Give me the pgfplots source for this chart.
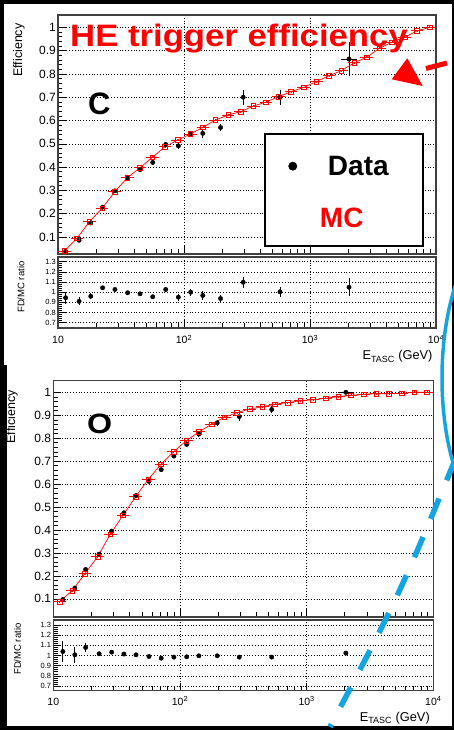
\documentclass[border=0pt]{standalone}
\usepackage{graphicx}
\usepackage{pgfplots}
\pgfplotsset{compat=1.18}
\usepackage{fontspec}
\setmainfont{Liberation Sans}
\definecolor{skyb}{RGB}{20,165,225}

\begin{document}
\begin{tikzpicture}
\path[use as bounding box] (0pt,0pt) rectangle (454pt,730pt);
\fill[black] (0pt,0pt) rectangle (454pt,730pt);
\fill[white] (4pt,4pt) rectangle (452pt,726pt);
\fill[black] (0pt,4pt) rectangle (7pt,365pt);

% ================= C main =================
\begin{axis}[
  scale only axis, xmode=log, xmin=10, xmax=10000,
  xtick={10,100,1000,10000}, xticklabels={},
  tick align=inside, xtick pos=left, ytick pos=left,
  major tick length=8pt, minor tick length=4.5pt,
  tick style={black, line width=0.6pt},
  grid=major,
  major grid style={black, line width=0.6pt, dash pattern=on 1pt off 1.8pt},
  axis line style={black!75, line width=1.2pt},
  ytick={0.1,0.2,0.3,0.4,0.5,0.6,0.7,0.8,0.9,1},
  yticklabels={0.1,0.2,0.3,0.4,0.5,0.6,0.7,0.8,0.9,1},
  minor y tick num=4,
  yticklabel style={font=\fontsize{12}{14}\selectfont, inner xsep=2pt},
  ylabel={Efficiency},
  ylabel style={at={(axis description cs:-0.1032,0.979)}, anchor=east, font=\fontsize{12.5}{14}\selectfont},
  at={(58pt,476pt)}, anchor=south west, width=378pt, height=239pt,
  ymin=0.027, ymax=1.053,
  legend style={at={(axis description cs:0.598,0.420)}, anchor=north west, draw=none, fill=none,
    font=\fontsize{28}{30}\selectfont\bfseries, row sep=27pt, inner sep=0pt},
  legend cell align=left,
]
\addplot[black, only marks, mark=*, mark size=2.2pt, forget plot,
  error bars/.cd, x dir=both, x explicit relative, y dir=both, y explicit,
  error bar style={black, line width=0.8pt}, error mark=none] coordinates {
 (11.5,0.038) +- (0,0.004)
 (14.7,0.086) +- (0,0.005)
 (18.2,0.160) +- (0,0.005)
 (22.6,0.228) +- (0,0.006)
 (28.3,0.298) +- (0,0.006)
 (35.7,0.352) +- (0,0.007)
 (44.8,0.389) +- (0,0.008)
 (56.5,0.420) +- (0,0.009)
 (71.6,0.497) +- (0,0.010)
 (90.2,0.491) +- (0,0.012)
 (113,0.542) +- (0,0.014)
 (141,0.545) +- (0,0.018)
 (195,0.570) +- (0,0.016)
 (295,0.700) +- (0,0.032)
 (578,0.700) +- (0,0.032)
 (2040,0.864) += (0.16,0.075) -= (0.14,0.075)
};
\addplot[red, line width=0.7pt, mark=square, mark size=2.3pt, mark options={solid, line width=0.6pt}, forget plot,
  error bars/.cd, x dir=both, x explicit relative, y dir=both, y explicit,
  error bar style={red, line width=0.7pt}, error mark=none] coordinates {
 (11.22,0.040) += (0.122,0.004) -= (0.109,0.004)
 (14.13,0.094) += (0.122,0.004) -= (0.109,0.004)
 (17.78,0.166) += (0.122,0.004) -= (0.109,0.004)
 (22.39,0.223) += (0.122,0.004) -= (0.109,0.004)
 (28.18,0.294) += (0.122,0.004) -= (0.109,0.004)
 (35.48,0.354) += (0.122,0.004) -= (0.109,0.004)
 (44.67,0.397) += (0.122,0.004) -= (0.109,0.004)
 (56.23,0.442) += (0.122,0.004) -= (0.109,0.004)
 (70.79,0.488) += (0.122,0.004) -= (0.109,0.004)
 (89.13,0.516) += (0.122,0.004) -= (0.109,0.004)
 (112.2,0.542) += (0.122,0.004) -= (0.109,0.004)
 (141.3,0.571) += (0.122,0.004) -= (0.109,0.004)
 (177.8,0.602) += (0.122,0.004) -= (0.109,0.004)
 (223.9,0.624) += (0.122,0.004) -= (0.109,0.004)
 (281.8,0.638) += (0.122,0.004) -= (0.109,0.004)
 (354.8,0.662) += (0.122,0.004) -= (0.109,0.004)
 (446.7,0.679) += (0.122,0.004) -= (0.109,0.004)
 (562.3,0.702) += (0.122,0.004) -= (0.109,0.004)
 (707.9,0.724) += (0.122,0.004) -= (0.109,0.004)
 (891.3,0.742) += (0.122,0.004) -= (0.109,0.004)
 (1122,0.767) += (0.122,0.004) -= (0.109,0.004)
 (1413,0.792) += (0.122,0.004) -= (0.109,0.004)
 (1778,0.814) += (0.122,0.004) -= (0.109,0.004)
 (2239,0.848) += (0.122,0.004) -= (0.109,0.004)
 (2818,0.871) += (0.122,0.004) -= (0.109,0.004)
 (3548,0.910) += (0.122,0.004) -= (0.109,0.004)
 (4467,0.936) += (0.122,0.004) -= (0.109,0.004)
 (5623,0.957) += (0.122,0.004) -= (0.109,0.004)
 (7079,0.985) += (0.122,0.004) -= (0.109,0.004)
 (8913,1.000) += (0.122,0.004) -= (0.109,0.004)
};
\draw[black, line width=2pt, fill=white] (axis description cs:0.5476,0.0335) rectangle (axis description cs:0.9656,0.5021);
\addlegendimage{only marks, mark=*, mark size=4.2pt, black}
\addlegendentry{\hspace*{29pt}Data}
\addlegendimage{empty legend}
\addlegendentry{\hspace*{21pt}\textcolor{red}{MC}}
\end{axis}

% ================= C ratio =================
\begin{axis}[
  scale only axis, xmode=log, xmin=10, xmax=10000,
  xtick={10,100,1000,10000},
  xticklabels={10,10\textsuperscript{2},10\textsuperscript{3},10\textsuperscript{4}},
  xticklabel style={font=\fontsize{10.5}{12}\selectfont, anchor=base, yshift=-16pt},
  tick align=inside, xtick pos=left, ytick pos=left,
  major tick length=8pt, minor tick length=4.5pt,
  tick style={black, line width=0.6pt},
  grid=major,
  major grid style={black, line width=0.6pt, dash pattern=on 1pt off 1.8pt},
  axis line style={black!75, line width=1.2pt},
  ytick={0.7,0.8,0.9,1,1.1,1.2,1.3},
  yticklabels={0.7,0.8,0.9,1,1.1,1.2,1.3},
  minor y tick num=4,
  yticklabel style={font=\fontsize{7.5}{9}\selectfont, inner xsep=2pt},
  ylabel={FD/MC ratio},
  ylabel style={at={(axis description cs:-0.0979,0.986)}, anchor=east, font=\fontsize{9.5}{11}\selectfont},
  xlabel={E\textsubscript{TASC} (GeV)},
  xlabel style={at={(axis description cs:1,-0.4507)}, anchor=base east, font=\fontsize{12.8}{14}\selectfont},
  at={(58pt,402pt)}, anchor=south west, width=378pt, height=71pt,
  ymin=0.648, ymax=1.346,
]
\addplot[black, only marks, mark=*, mark size=2.2pt,
  error bars/.cd, y dir=both, y explicit,
  error bar style={black, line width=0.8pt}, error mark=none] coordinates {
 (11.5,0.945) +- (0,0.06)
 (14.7,0.910) +- (0,0.04)
 (18.2,0.960) +- (0,0.028)
 (22.6,1.043) +- (0,0.015)
 (28.3,1.027) +- (0,0.012)
 (35.7,0.994) +- (0,0.012)
 (44.8,0.984) +- (0,0.015)
 (56.5,0.955) +- (0,0.018)
 (71.6,1.027) +- (0,0.022)
 (90.2,0.951) +- (0,0.035)
 (113,1.000) +- (0,0.033)
 (141,0.968) +- (0,0.042)
 (195,0.938) +- (0,0.035)
 (295,1.098) +- (0,0.052)
 (578,1.004) +- (0,0.048)
 (2040,1.049) +- (0,0.09)
};
\end{axis}

% ================= O main =================
\begin{axis}[
  scale only axis, xmode=log, xmin=10, xmax=10000,
  xtick={10,100,1000,10000}, xticklabels={},
  tick align=inside, xtick pos=left, ytick pos=left,
  major tick length=8pt, minor tick length=4.5pt,
  tick style={black, line width=0.6pt},
  grid=major,
  major grid style={black, line width=0.6pt, dash pattern=on 1pt off 1.8pt},
  axis line style={black!75, line width=1.2pt},
  ytick={0.1,0.2,0.3,0.4,0.5,0.6,0.7,0.8,0.9,1},
  yticklabels={0.1,0.2,0.3,0.4,0.5,0.6,0.7,0.8,0.9,1},
  minor y tick num=4,
  yticklabel style={font=\fontsize{12}{14}\selectfont, inner xsep=2pt},
  ylabel={Efficiency},
  ylabel style={at={(axis description cs:-0.1087,0.9746)}, anchor=east, font=\fontsize{12.5}{14}\selectfont},
  at={(53.3pt,113pt)}, anchor=south west, width=380pt, height=236.3pt,
  ymin=0.021, ymax=1.0505,
]
\addplot[black, only marks, mark=*, mark size=2.2pt,
  error bars/.cd, x dir=both, x explicit relative, y dir=both, y explicit,
  error bar style={black, line width=0.8pt}, error mark=none] coordinates {
 (11.9,0.097) +- (0,0.010)
 (14.8,0.147) +- (0,0.010)
 (18.0,0.228) +- (0,0.008)
 (23.0,0.295) +- (0,0.006)
 (28.9,0.395) +- (0,0.006)
 (36.1,0.475) +- (0,0.006)
 (45.0,0.550) +- (0,0.006)
 (56.9,0.612) +- (0,0.008)
 (71.1,0.663) +- (0,0.008)
 (89.5,0.722) +- (0,0.009)
 (113,0.773) +- (0,0.011)
 (141,0.818) +- (0,0.013)
 (197,0.867) +- (0,0.013)
 (294,0.894) +- (0,0.018)
 (530,0.925) +- (0,0.016)
 (2040,1.000) += (0.16,0.005) -= (0.14,0.005)
};
\addplot[red, line width=0.7pt, mark=square, mark size=2.3pt, mark options={solid, line width=0.6pt},
  error bars/.cd, x dir=both, x explicit relative, y dir=both, y explicit,
  error bar style={red, line width=0.7pt}, error mark=none] coordinates {
 (11.22,0.088) += (0.122,0.004) -= (0.109,0.004)
 (14.13,0.136) += (0.122,0.004) -= (0.109,0.004)
 (17.78,0.210) += (0.122,0.004) -= (0.109,0.004)
 (22.39,0.284) += (0.122,0.004) -= (0.109,0.004)
 (28.18,0.381) += (0.122,0.004) -= (0.109,0.004)
 (35.48,0.464) += (0.122,0.004) -= (0.109,0.004)
 (44.67,0.545) += (0.122,0.004) -= (0.109,0.004)
 (56.23,0.621) += (0.122,0.004) -= (0.109,0.004)
 (70.79,0.686) += (0.122,0.004) -= (0.109,0.004)
 (89.13,0.741) += (0.122,0.004) -= (0.109,0.004)
 (112.2,0.789) += (0.122,0.004) -= (0.109,0.004)
 (141.3,0.828) += (0.122,0.004) -= (0.109,0.004)
 (177.8,0.861) += (0.122,0.004) -= (0.109,0.004)
 (223.9,0.891) += (0.122,0.004) -= (0.109,0.004)
 (281.8,0.911) += (0.122,0.004) -= (0.109,0.004)
 (354.8,0.927) += (0.122,0.004) -= (0.109,0.004)
 (446.7,0.937) += (0.122,0.004) -= (0.109,0.004)
 (562.3,0.948) += (0.122,0.004) -= (0.109,0.004)
 (707.9,0.955) += (0.122,0.004) -= (0.109,0.004)
 (891.3,0.963) += (0.122,0.004) -= (0.109,0.004)
 (1122,0.968) += (0.122,0.004) -= (0.109,0.004)
 (1413,0.974) += (0.122,0.004) -= (0.109,0.004)
 (1778,0.981) += (0.122,0.004) -= (0.109,0.004)
 (2239,0.987) += (0.122,0.004) -= (0.109,0.004)
 (2818,0.991) += (0.122,0.004) -= (0.109,0.004)
 (3548,0.994) += (0.122,0.004) -= (0.109,0.004)
 (4467,0.994) += (0.122,0.004) -= (0.109,0.004)
 (5623,0.996) += (0.122,0.004) -= (0.109,0.004)
 (7079,1.000) += (0.122,0.004) -= (0.109,0.004)
 (8913,1.000) += (0.122,0.004) -= (0.109,0.004)
};
\end{axis}

% ================= O ratio =================
\begin{axis}[
  scale only axis, xmode=log, xmin=10, xmax=10000,
  xtick={10,100,1000,10000},
  xticklabels={10,10\textsuperscript{2},10\textsuperscript{3},10\textsuperscript{4}},
  xticklabel style={font=\fontsize{10.5}{12}\selectfont, anchor=base, yshift=-15pt},
  tick align=inside, xtick pos=left, ytick pos=left,
  major tick length=8pt, minor tick length=4.5pt,
  tick style={black, line width=0.6pt},
  grid=major,
  major grid style={black, line width=0.6pt, dash pattern=on 1pt off 1.8pt},
  axis line style={black!75, line width=1.2pt},
  ytick={0.7,0.8,0.9,1,1.1,1.2,1.3},
  yticklabels={0.7,0.8,0.9,1,1.1,1.2,1.3},
  minor y tick num=4,
  yticklabel style={font=\fontsize{7.5}{9}\selectfont, inner xsep=2pt},
  ylabel={FD/MC ratio},
  ylabel style={at={(axis description cs:-0.0942,1.0)}, anchor=east, font=\fontsize{9.5}{11}\selectfont},
  xlabel={E\textsubscript{TASC} (GeV)},
  xlabel style={at={(axis description cs:1,-0.4385)}, anchor=base east, font=\fontsize{12.8}{14}\selectfont},
  at={(53.3pt,39.3pt)}, anchor=south west, width=380pt, height=70.7pt,
  ymin=0.654, ymax=1.349,
]
\addplot[black, only marks, mark=*, mark size=2.2pt,
  error bars/.cd, y dir=both, y explicit,
  error bar style={black, line width=0.8pt}, error mark=none] coordinates {
 (11.9,1.039) +- (0,0.10)
 (14.8,1.007) +- (0,0.08)
 (18.0,1.079) +- (0,0.04)
 (23.0,1.017) +- (0,0.02)
 (28.9,1.033) +- (0,0.015)
 (36.1,1.014) +- (0,0.012)
 (45.0,1.007) +- (0,0.012)
 (56.9,0.990) +- (0,0.012)
 (71.1,0.974) +- (0,0.012)
 (89.5,0.984) +- (0,0.012)
 (113,0.987) +- (0,0.012)
 (141,0.997) +- (0,0.012)
 (197,0.997) +- (0,0.012)
 (294,0.984) +- (0,0.015)
 (530,0.984) +- (0,0.015)
 (2040,1.024) +- (0,0.01)
};
\end{axis}

% ================= annotations =================
\node[anchor=base west, inner sep=0pt, text=red, font=\fontsize{31}{33}\selectfont\bfseries]
  at (70pt,683.3pt) {\scalebox{1.12}[1]{HE trigger efficiency}};
\node[anchor=base west, inner sep=0pt, font=\fontsize{31}{33}\selectfont\bfseries]
  at (88pt,615pt) {C};
\node[anchor=base west, inner sep=0pt, font=\fontsize{28}{30}\selectfont\bfseries]
  at (87pt,296pt) {\scalebox{1.15}[1]{O}};
\fill[red] (391.7pt,650.7pt) -- (407.3pt,671.7pt) -- (422.7pt,644pt) -- cycle;
\draw[red, line width=5pt] (426pt,661.5pt) -- (447pt,667pt);
\draw[skyb, line width=3.5pt] (502pt,352pt) ellipse [x radius=60pt, y radius=146.7pt];
\draw[skyb, line width=5.5pt, dash pattern=on 22pt off 19.7pt]
  (455pt,270pt) .. controls (400pt,136.5pt) .. (330pt,3pt);
\end{tikzpicture}
\end{document}
